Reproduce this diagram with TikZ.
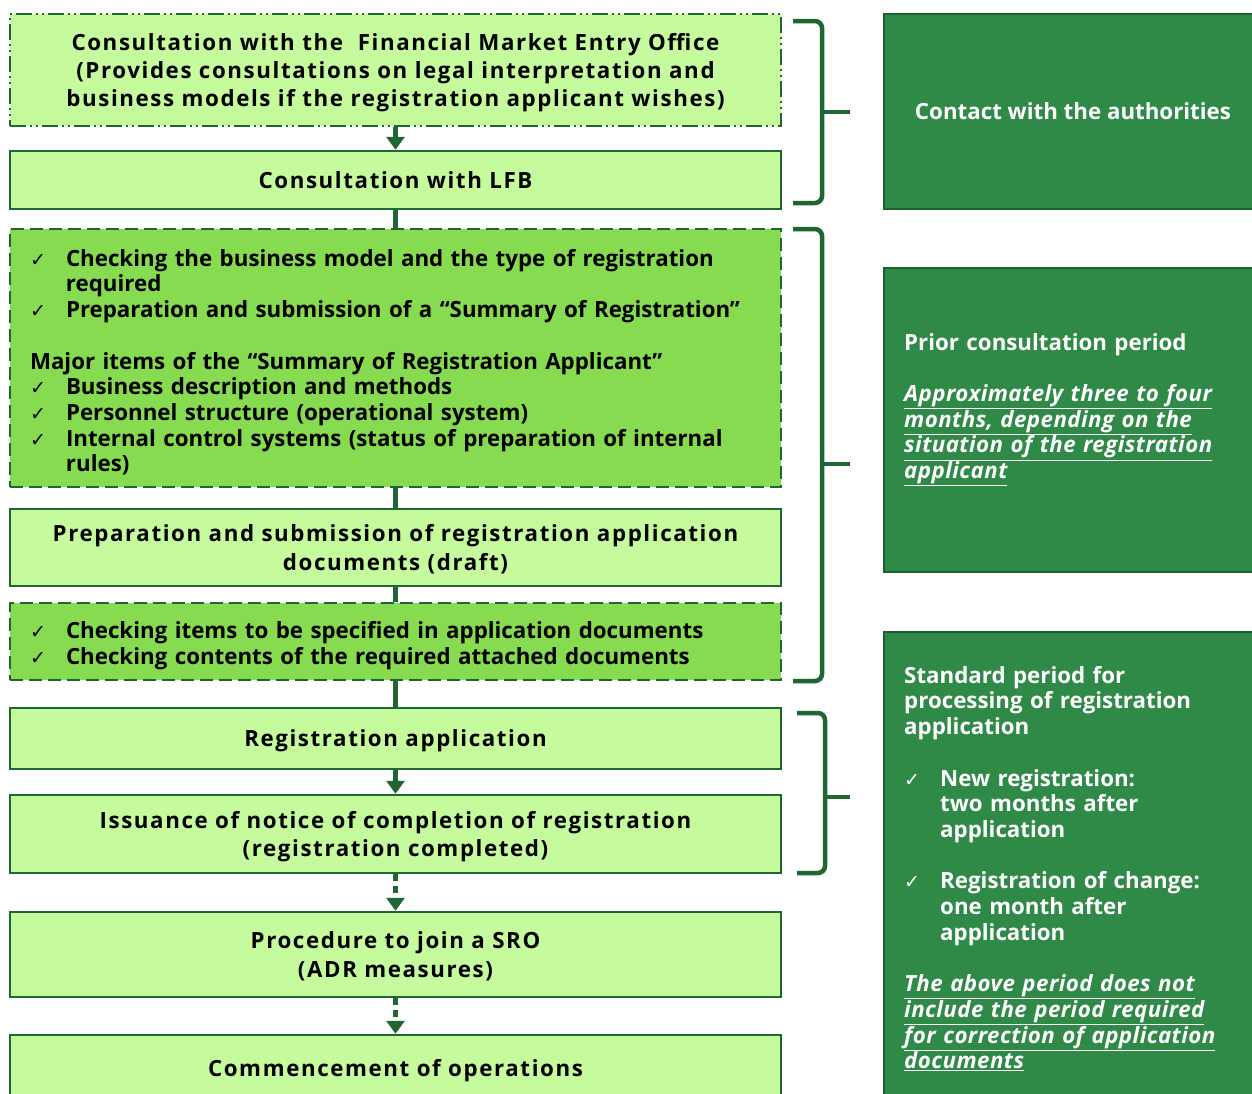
\documentclass[tikz,border=0pt]{standalone}
\usepackage{fontspec}
\setmainfont{Open Sans}
\newfontfamily\spacedfont[LetterSpace=7.2]{Open Sans}
\newfontfamily\itfont[LetterSpace=2]{Open Sans}
\newfontfamily\symfont{DejaVu Sans}
\usetikzlibrary{arrows.meta}

\definecolor{boxlight}{RGB}{197,250,157}
\definecolor{boxmid}{RGB}{134,219,80}
\definecolor{edge}{RGB}{31,102,51}
\definecolor{panel}{RGB}{46,138,70}
\definecolor{paneledge}{RGB}{28,96,48}

% check-marked item with hanging indent
\newcommand\ckitem[2][36pt]{\par\hangindent=#1\hangafter=1\noindent\makebox[#1][l]{\symfont\mdseries\fontsize{19}{20}\selectfont ✓}#2\par}
\newcommand\uline[1]{\underline{#1}}

\begin{document}
\begin{tikzpicture}[x=1pt,y=-1pt,
  txt/.style={font=\bfseries\fontsize{22.3}{25.7}\selectfont},
  boxbase/.style={draw=edge, line width=2.5pt, minimum width=771pt,
    inner xsep=20pt, inner ysep=0pt},
  flowbox/.style={boxbase, fill=boxlight, align=center, text depth=-1pt,
    font=\spacedfont\bfseries\fontsize{22.3}{28.3}\selectfont},
  checkbox/.style={boxbase, txt, fill=boxmid, dash pattern=on 13pt off 6pt,
    text width=731pt, align=left},
  panelbox/.style={txt, draw=paneledge, line width=2pt, fill=panel,
    minimum width=378pt, text=white, inner sep=0pt},
  paneltext/.style={txt, text=white, text width=345pt, align=left,
    inner sep=0pt, anchor=north west},
  conn/.style={draw=edge, line width=5pt},
  arr/.style={conn, -{Triangle[width=18pt,length=13pt]}},
  dconn/.style={arr, dash pattern=on 7pt off 5pt},
  bracket/.style={draw=edge, line width=4.5pt, rounded corners=7pt},
  tip/.style={draw=edge, line width=4pt}
]
\useasboundingbox (0,0) rectangle (1252,1093);
\fill[white] (0,0) rectangle (1252,1093);

% flow of steps
\node[flowbox, minimum height=112pt, dash pattern=on 16pt off 4pt on 2pt off 4pt on 2pt off 4pt] (b1) at (395.5,70)
  {Consultation with the \ Financial Market Entry Office\\(Provides consultations on legal interpretation and\\business models if the registration applicant wishes)};
\node[flowbox, minimum height=58pt] (b2) at (395.5,180) {Consultation with LFB};
\node[checkbox, minimum height=258pt] (b3) at (395.5,358) {%
  \ckitem{Checking the business model and the type of registration\newline required}%
  \ckitem{Preparation and submission of a “Summary of Registration”}%
  \vspace{25.7pt}\noindent Major items of the “Summary of Registration Applicant”%
  \ckitem{Business description and methods}%
  \ckitem{Personnel structure (operational system)}%
  \ckitem{Internal control systems (status of preparation of internal\newline rules)}};
\node[flowbox, minimum height=77pt] (b4) at (395.5,547.5)
  {Preparation and submission of registration application\\documents (draft)};
\node[checkbox, minimum height=77pt] (b5) at (395.5,641.5) {%
  \ckitem{Checking items to be specified in application documents}%
  \ckitem{Checking contents of the required attached documents}};
\node[flowbox, minimum height=61pt] (b6) at (395.5,738.5) {Registration application};
\node[flowbox, minimum height=78pt] (b7) at (395.5,834)
  {Issuance of notice of completion of registration\\(registration completed)};
\node[flowbox, minimum height=85pt] (b8) at (395.5,954.5)
  {Procedure to join a SRO\\(ADR measures)};
\node[flowbox, minimum height=66pt] (b9) at (395.5,1068) {Commencement of operations};

% connectors
\draw[arr] (b1.south) -- (b2.north);
\draw[conn] (b2.south) -- (b3.north);
\draw[conn] (b3.south) -- (b4.north);
\draw[conn] (b4.south) -- (b5.north);
\draw[conn] (b5.south) -- (b6.north);
\draw[arr] (b6.south) -- (b7.north);
\draw[dconn] (b7.south) -- (b8.north);
\draw[dconn] (b8.south) -- (b9.north);

% brackets grouping the steps
\draw[bracket] (793,21) -- (822,21) -- (822,203) -- (793,203);
\draw[tip] (822,112) -- (850,112);
\draw[bracket] (793,229) -- (822,229) -- (822,681) -- (793,681);
\draw[tip] (822,464) -- (850,464);
\draw[bracket] (797,713) -- (825,713) -- (825,873) -- (797,873);
\draw[tip] (825,797) -- (850,797);

% period panels
\node[panelbox, minimum height=195pt] (pA) at (1073,111.5) {Contact with the authorities};
\node[panelbox, minimum height=304pt] (pB) at (1073,420) {};
\node[panelbox, minimum height=476pt] (pC) at (1073,870) {};

\node[paneltext] (tB) at (904,333) {%
  Prior consultation period\par\vspace{25.7pt}%
  \itfont\itshape\uline{Approximately three to four}\newline
  \uline{months, depending on the}\newline
  \uline{situation of the registration}\newline
  \uline{applicant}};
\node[paneltext] (tC) at (904,666) {%
  Standard period for\newline processing of registration\newline application%
  \par\vspace{25.7pt}%
  \ckitem{New registration:\newline two months after\newline application}%
  \vspace{25.7pt}%
  \ckitem{Registration of change:\newline one month after\newline application}%
  \vspace{25.7pt}\noindent
  \itfont\itshape\uline{The above period does not}\newline
  \uline{include the period required}\newline
  \uline{for correction of application}\newline
  \uline{documents}};
\end{tikzpicture}
\end{document}
